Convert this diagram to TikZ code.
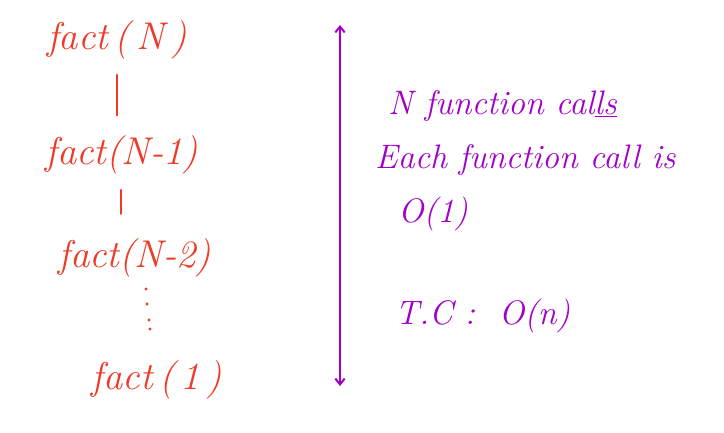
\documentclass[tikz,border=0pt]{standalone}
\usetikzlibrary{arrows.meta}
\definecolor{inkred}{RGB}{238,58,38}
\definecolor{inkpurple}{RGB}{160,0,200}
\begin{document}
\begin{tikzpicture}[x=0.03cm,y=-0.03cm,
  callnode/.style={text=inkred,font=\fontsize{33}{36}\selectfont\itshape,inner sep=0pt},
  noteline/.style={text=inkpurple,font=\fontsize{29}{32}\selectfont\itshape,inner sep=0pt,anchor=west},
  link/.style={draw=inkred,line width=1.6pt,line cap=round},
  bothways/.style={draw=inkpurple,line width=1.7pt,{Straight Barb[length=5pt,width=8pt]}-{Straight Barb[length=5pt,width=8pt]}}
]
\useasboundingbox (0,0) rectangle (724,433);
% call chain
\node[callnode] (f1) at (117,40) {fact\,(\,N\,)};
\node[callnode] (f2) at (122,155) {fact(N-1)};
\node[callnode] (f3) at (135,258) {fact(N-2)};
\node[callnode] (f4) at (157,380) {fact\,(\,1\,)};
\draw[link,shorten <=13pt,shorten >=17pt] (f1.south) -- (f1.south |- f2.north);
\draw[link,shorten <=13pt,shorten >=21pt] ([xshift=-1pt]f2.south) -- ([xshift=-1pt]f2.south |- f3.north);
% dots
\foreach \px/\py in {146/289,147/304,149/320,150/329}
  \fill[inkred] (\px,\py) circle (1.3pt);
% arrow
\coordinate (atop) at (340,25);
\coordinate (abot) at (340,386);
\draw[bothways] (atop) -- (abot);
% notes
\node[noteline] (n1) at (388,106) {N function cal\underline{ls}};
\node[noteline] (n2) at (375,160) {Each function call is};
\node[noteline] (n3) at (398,214) {O(1)};
\node[noteline] (n4) at (395,316) {T.C :\ \ O(n)};
\end{tikzpicture}
\end{document}
